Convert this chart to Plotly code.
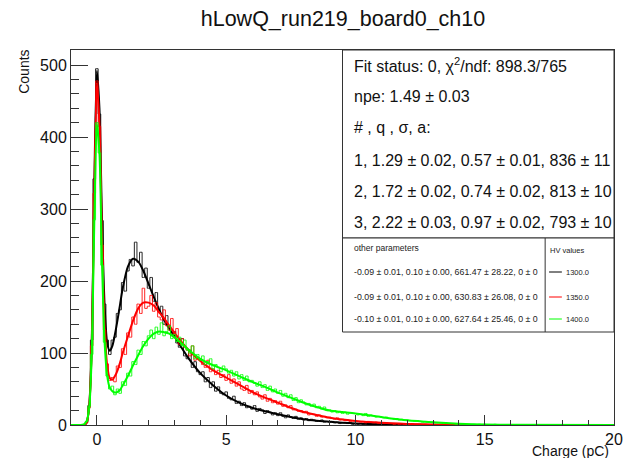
import plotly.graph_objects as go

# ---------------- data ----------------
hv_labels = ["1300.0", "1350.0", "1400.0"]
colors = ["#000000", "#ff0000", "#00ff00"]

# histogram bin centres (pC), bin width 0.1
bin_width = 0.1
bin_q = [round(-1.0 + bin_width * i, 2) for i in range(171)]

counts_1300 = [
    0, 0, 0, 0, 0, 0, 4, 27, 118, 342,
    495, 432, 284, 168, 118, 98, 118, 122, 155, 160,
    198, 186, 214, 230, 221, 254, 226, 240, 205, 218,
    190, 205, 172, 184, 158, 165, 140, 152, 138, 124,
    130, 114, 108, 120, 96, 92, 104, 80, 88, 74,
    70, 74, 60, 66, 52, 60, 47, 53, 44, 42,
    46, 37, 35, 40, 30, 33, 27, 31, 24, 26,
    22, 27, 19, 23, 21, 16, 20, 18, 14, 17,
    13, 17, 12, 10, 14, 11, 9, 12, 8, 10,
    7, 9, 6, 8, 7, 5, 6, 7, 4, 5,
    4, 5, 3, 4, 2, 3, 3, 2, 3, 1,
    2, 1, 2, 1, 2, 1, 1, 1, 1, 0,
    1, 0, 1, 0, 0, 1, 0, 0, 0, 0,
]
counts_1350 = [
    0, 0, 0, 0, 0, 0, 3, 24, 110, 322,
    478, 415, 250, 132, 85, 62, 66, 60, 82, 80,
    106, 98, 128, 122, 150, 140, 168, 155, 190, 162,
    165, 180, 158, 170, 150, 146, 160, 138, 132, 148,
    122, 134, 112, 120, 108, 104, 96, 110, 90, 94,
    92, 84, 80, 90, 74, 78, 70, 76, 66, 70,
    62, 70, 58, 64, 54, 60, 50, 48, 55, 44,
    48, 42, 46, 39, 36, 42, 33, 37, 31, 34,
    29, 33, 26, 28, 24, 27, 21, 22, 19, 20,
    17, 19, 14, 16, 15, 12, 14, 11, 12, 10,
    11, 9, 8, 10, 7, 8, 6, 7, 5, 6,
    6, 5, 4, 5, 3, 5, 4, 3, 4, 2,
    3, 2, 3, 2, 2, 1, 2, 1, 2, 1,
    1, 1, 2, 0, 1, 1, 0, 1, 0, 0,
    1, 0, 0, 1, 0, 0, 0, 0, 0, 0,
]
counts_1400 = [
    0, 0, 0, 0, 0, 1, 5, 26, 98, 285,
    420, 378, 222, 115, 68, 50, 54, 42, 50, 44,
    60, 55, 72, 68, 88, 84, 104, 98, 116, 110,
    124, 132, 120, 136, 126, 142, 124, 130, 138, 120,
    126, 116, 122, 110, 118, 104, 100, 110, 92, 98,
    90, 96, 84, 88, 92, 78, 84, 80, 74, 82,
    78, 72, 76, 68, 74, 64, 70, 62, 68, 60,
    62, 58, 54, 60, 52, 56, 48, 54, 46, 50,
    44, 48, 40, 44, 38, 42, 34, 38, 31, 35,
    32, 28, 30, 26, 29, 24, 26, 22, 25, 20,
    21, 18, 20, 17, 19, 16, 18, 15, 17, 16,
    16, 14, 15, 13, 16, 12, 14, 13, 11, 12,
    11, 10, 11, 9, 9, 8, 9, 7, 8, 7,
    7, 6, 6, 5, 6, 5, 4, 5, 4, 4,
    4, 3, 3, 3, 2, 3, 2, 2, 2, 1,
    2, 1, 2, 1, 1, 1, 1, 0, 1, 0,
    1, 0, 0, 0, 1, 0, 0, 0, 0, 0, 0,
]

# fitted function samples
fit_q = [-1.0, -0.5, -0.4, -0.3, -0.2, -0.1, 0.0, 0.1, 0.2, 0.3, 0.4, 0.5, 0.6, 0.7, 0.8, 0.9,
         1.0, 1.2, 1.4, 1.6, 1.8, 2.0, 2.2, 2.4, 2.6, 2.8, 3.0, 3.5, 4.0, 4.5, 5.0, 5.5,
         6.0, 6.5, 7.0, 7.5, 8.0, 8.5, 9.0, 9.5, 10.0, 11.0, 12.0, 13.0, 14.0, 15.0, 16.0, 20.0]
fit_1300 = [0, 0, 3, 25, 110, 330, 492, 440, 282, 166, 114, 103, 110, 126, 146, 168,
            190, 220, 231, 227, 214, 196, 178, 161, 146, 134, 123, 95, 72, 55, 41, 31,
            24, 19, 15, 11, 8, 6, 4.5, 3.2, 2.2, 1, 0.4, 0.1, 0, 0, 0, 0]
fit_1350 = [0, 0, 3, 24, 105, 315, 476, 418, 255, 136, 83, 65, 63, 68, 76, 87,
            100, 123, 145, 162, 170, 170, 166, 157, 148, 138, 128, 106, 89, 76, 66, 56,
            46, 38, 31, 24, 18, 14, 10, 7.5, 5.5, 3, 1.5, 0.6, 0.2, 0, 0, 0]
fit_1400 = [0, 1, 5, 22, 95, 280, 418, 378, 224, 115, 68, 52, 47, 45, 46, 49,
            55, 68, 83, 97, 110, 120, 127, 130, 129, 127, 122, 106, 92, 83, 76, 68,
            60, 53, 45, 38, 31, 25, 20, 18, 16, 11, 6.5, 3.8, 1.8, 0.7, 0.2, 0]

hist_counts = [counts_1300, counts_1350, counts_1400]
fit_values = [fit_1300, fit_1350, fit_1400]

title_text = "hLowQ_run219_board0_ch10"
stats_lines = [
    "Fit status: 0, χ<sup>2</sup>/ndf: 898.3/765",
    "npe: 1.49 ± 0.03",
    "# , q , σ, a:",
    "1, 1.29 ± 0.02, 0.57 ± 0.01, 836 ± 11",
    "2, 1.72 ± 0.02, 0.74 ± 0.02, 813 ± 10",
    "3, 2.22 ± 0.03, 0.97 ± 0.02, 793 ± 10",
]
other_params = [
    "-0.09 ± 0.01, 0.10 ± 0.00, 661.47 ± 28.22, 0 ± 0",
    "-0.09 ± 0.01, 0.10 ± 0.00, 630.83 ± 26.08, 0 ± 0",
    "-0.10 ± 0.01, 0.10 ± 0.00, 627.64 ± 25.46, 0 ± 0",
]

# ---------------- layout geometry (pixels) ----------------
W, H = 628, 458
L, R, T, B = 71, 623, 50, 425
FONT = "Liberation Sans, Arial, Helvetica, sans-serif"


def px(x):
    return (x - L) / (R - L)


def py(y):
    return (B - y) / (B - T)


fig = go.Figure()

for cnt, fv, col in zip(hist_counts, fit_values, colors):
    n = len(cnt)
    full = list(cnt) + [0] * (len(bin_q) - n)
    fig.add_trace(go.Scatter(
        x=bin_q + [20.0], y=full + [0], mode="lines",
        line=dict(color=col, width=1, shape="hvh"),
        opacity=0.85, showlegend=False, hoverinfo="skip"))
    fig.add_trace(go.Scatter(
        x=fit_q, y=fv, mode="lines",
        line=dict(color=col, width=2, shape="spline", smoothing=0.7),
        showlegend=False, hoverinfo="skip"))

axis_common = dict(
    showline=True, mirror=True, linecolor="#333", linewidth=1,
    showgrid=False, zeroline=False, ticks="inside", tickcolor="#333",
    ticklabeloverflow="allow",
    tickfont=dict(family=FONT, size=16, color="#111"),
)

fig.update_xaxes(range=[-1, 20], dtick=5, tick0=0, ticklen=10,
                 minor=dict(dtick=1, ticklen=5, ticks="inside", tickcolor="#333"),
                 **axis_common)
fig.update_yaxes(range=[0, 521], dtick=100, tick0=0, ticklen=17,
                 minor=dict(dtick=20, ticklen=8, ticks="inside", tickcolor="#333"),
                 **axis_common)

shapes = []
annotations = []

# stats box
shapes.append(dict(type="rect", xref="paper", yref="paper",
                   x0=px(347), x1=px(623), y0=py(238), y1=py(50),
                   line=dict(color="#333", width=1), fillcolor="white", layer="above"))
stat_y = [65, 97, 128, 160, 191, 222]
for txt, yy in zip(stats_lines, stat_y):
    annotations.append(dict(xref="paper", yref="paper", x=px(357), y=py(yy),
                            xanchor="left", yanchor="middle", showarrow=False,
                            text=txt, font=dict(family=FONT, size=16, color="#111")))

# legend box
shapes.append(dict(type="rect", xref="paper", yref="paper",
                   x0=px(347), x1=px(623), y0=py(332), y1=py(238),
                   line=dict(color="#333", width=1), fillcolor="white", layer="above"))
shapes.append(dict(type="line", xref="paper", yref="paper",
                   x0=px(553), x1=px(553), y0=py(332), y1=py(238),
                   line=dict(color="#333", width=1), layer="above"))
annotations.append(dict(xref="paper", yref="paper", x=px(357), y=py(248),
                        xanchor="left", yanchor="middle", showarrow=False,
                        text="other parameters", font=dict(family=FONT, size=8.5, color="#222")))
annotations.append(dict(xref="paper", yref="paper", x=px(556), y=py(250),
                        xanchor="left", yanchor="middle", showarrow=False,
                        text="HV values", font=dict(family=FONT, size=7.5, color="#222")))
row_y = [272, 297, 319]
for txt, lab, col, yy in zip(other_params, hv_labels, colors, row_y):
    annotations.append(dict(xref="paper", yref="paper", x=px(357), y=py(yy),
                            xanchor="left", yanchor="middle", showarrow=False,
                            text=txt, font=dict(family=FONT, size=8.8, color="#222")))
    shapes.append(dict(type="line", xref="paper", yref="paper",
                       x0=px(557), x1=px(570), y0=py(yy), y1=py(yy),
                       line=dict(color=col, width=1), layer="above"))
    annotations.append(dict(xref="paper", yref="paper", x=px(572), y=py(yy),
                            xanchor="left", yanchor="middle", showarrow=False,
                            text=lab, font=dict(family=FONT, size=7.5, color="#222")))

# axis titles
annotations.append(dict(xref="paper", yref="paper", x=px(620), y=py(451),
                        xanchor="right", yanchor="middle", showarrow=False,
                        text="Charge (pC)", font=dict(family=FONT, size=14, color="#111")))
annotations.append(dict(xref="paper", yref="paper", x=px(23), y=py(72),
                        xanchor="center", yanchor="middle", showarrow=False, textangle=-90,
                        text="Counts", font=dict(family=FONT, size=14, color="#111")))

fig.update_layout(
    width=W, height=H,
    margin=dict(l=L, r=W - R, t=T, b=H - B),
    paper_bgcolor="white", plot_bgcolor="white",
    title=dict(text=title_text, x=343 / W, xanchor="center",
               y=1 - 18 / H, yanchor="middle",
               font=dict(family=FONT, size=21.5, color="#111")),
    shapes=shapes, annotations=annotations, showlegend=False,
)

fig.write_html("out.html")
